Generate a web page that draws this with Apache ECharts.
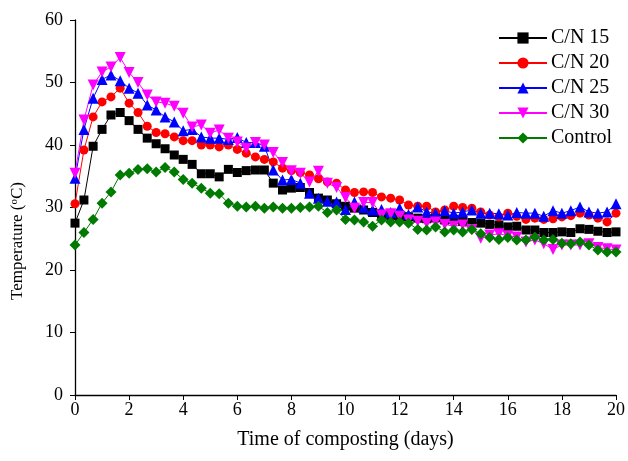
<!DOCTYPE html>
<html>
<head>
<meta charset="utf-8">
<script src="https://cdn.jsdelivr.net/npm/echarts@6/dist/echarts.min.js"></script>
<style>html,body{margin:0;padding:0;background:#fff;}#c{width:628px;height:461px;}</style>
</head>
<body>
<div id="c"></div>
<script>
var days = [0,0.33,0.67,1,1.33,1.67,2,2.33,2.67,3,3.33,3.67,4,4.33,4.67,5,5.33,5.67,6,6.33,6.67,7,7.33,7.67,8,8.33,8.67,9,9.33,9.67,10,10.33,10.67,11,11.33,11.67,12,12.33,12.67,13,13.33,13.67,14,14.33,14.67,15,15.33,15.67,16,16.33,16.67,17,17.33,17.67,18,18.33,18.67,19,19.33,19.67,20];
var cn15 = [27.5,31.2,39.8,42.5,44.8,45.2,43.9,42.5,41.1,40.2,39.4,38.4,37.7,36.9,35.4,35.4,34.9,36.1,35.6,35.9,36.0,36.0,33.9,32.8,33.1,33.2,32.4,31.5,31.2,30.6,30.2,29.9,29.6,29.2,28.9,28.7,28.4,28.5,28.3,28.2,28.4,28.0,28.1,27.8,27.6,27.5,27.3,27.2,26.9,27.0,26.4,26.4,26.0,26.0,26.1,26.0,26.6,26.5,26.2,26.0,26.1];
var cn20 = [30.6,39.2,44.5,46.9,47.7,49.1,46.7,45.2,43.0,42.0,41.8,41.3,40.7,40.7,40.0,40.0,39.7,40.0,39.3,38.7,38.1,37.7,37.3,36.3,35.9,35.6,35.2,34.6,34.1,33.9,32.8,32.4,32.5,32.4,31.7,31.5,31.2,30.4,30.2,30.2,29.3,29.6,30.2,30.0,29.9,29.3,28.8,28.5,29.1,28.6,28.1,28.3,28.1,28.2,28.5,28.7,29.1,28.8,28.3,27.7,29.1];
var cn25 = [34.7,42.5,47.5,50.5,51.2,50.3,49.1,48.3,46.4,45.6,44.5,43.7,42.3,42.5,41.3,41.1,41.1,40.9,41.2,40.4,40.4,39.8,36.0,34.4,34.5,33.9,32.3,31.5,31.0,30.9,29.7,30.9,30.0,29.6,29.7,29.2,29.9,28.9,30.1,29.3,29.1,29.5,29.1,29.3,29.6,29.1,29.1,29.0,28.8,29.2,29.1,29.1,28.6,29.5,29.1,29.5,30.1,29.3,29.1,29.3,30.6];
var cn30 = [35.5,44.0,49.6,51.7,52.5,54.0,51.6,50.0,48.0,46.9,46.7,46.2,45.1,42.9,43.2,41.9,42.4,41.1,40.5,39.5,40.4,40.0,38.8,37.2,35.9,35.5,34.1,35.8,33.9,33.2,31.6,29.9,30.8,30.8,28.8,29.0,28.6,28.0,27.8,27.5,27.7,27.3,27.0,27.2,26.5,25.1,25.6,25.8,25.5,25.3,24.5,24.8,24.2,23.3,24.0,24.0,24.0,24.2,23.6,23.4,23.2];
var control = [24.0,26.0,28.1,30.7,32.5,35.2,35.5,36.1,36.2,35.7,36.4,35.7,34.5,33.9,33.1,32.3,32.2,30.7,30.2,30.1,30.2,29.9,30.1,29.9,29.9,30.0,30.1,30.2,29.2,29.6,28.1,28.0,27.7,27.0,28.0,27.7,27.7,27.5,26.5,26.4,26.9,26.1,26.4,26.1,26.5,25.8,25.2,24.9,25.2,24.8,24.8,25.3,24.8,24.9,24.3,24.2,24.5,24.0,23.2,22.9,22.9];
var seriesNames = ['C/N 15','C/N 20','C/N 25','C/N 30','Control'];
var xTicks = [0,2,4,6,8,10,12,14,16,18,20];
var yTicks = [0,10,20,30,40,50,60];

function pairs(vals){ return days.map(function(d,i){ return [d, vals[i]]; }); }
var FONT = 'Liberation Serif';
var styles = [
  {data: cn15, color:'#000000', symbol:'rect', size:9, rot:0},
  {data: cn20, color:'#ff0000', symbol:'circle', size:9, rot:0},
  {data: cn25, color:'#0000ff', symbol:'triangle', size:11, rot:0},
  {data: cn30, color:'#ff00ff', symbol:'triangle', size:11, rot:180},
  {data: control, color:'#007a00', symbol:'diamond', size:11, rot:0}
];
var series = styles.map(function(s,i){
  return {
    name: seriesNames[i], type:'line', data: pairs(s.data),
    symbol: s.symbol, symbolSize: s.size, symbolRotate: s.rot,
    showAllSymbol: true,
    lineStyle:{color:s.color, width:1}, itemStyle:{color:s.color},
    emphasis:{disabled:true}, animation:false
  };
});
var chart = echarts.init(document.getElementById('c'), null, {renderer:'canvas'});
chart.setOption({
  animation:false,
  grid:{left:75, right:9, top:20, bottom:66, containLabel:false},
  legend:{
    orient:'vertical', left:498, top:28, itemWidth:48, itemHeight:14, itemGap:5, padding:0,
    textStyle:{fontFamily:FONT, fontSize:20, color:'#000', padding:[0,0,0,-1]},
    data: seriesNames
  },
  graphic:[{
    type:'text', x:18, y:241, rotation:Math.PI/2,
    style:{text:'Temperature ({s|o}C)', fontFamily:FONT, fontSize:17, fill:'#000',
      align:'center', verticalAlign:'middle',
      rich:{s:{fontFamily:FONT, fontSize:11, fill:'#000', verticalAlign:'top', padding:[0,0,7,0]}}}
  }],
  xAxis:{
    type:'value', min:0, max:20, interval:2,
    name:'Time of composting (days)', nameLocation:'middle', nameGap:35,
    nameTextStyle:{fontFamily:FONT, fontSize:20, color:'#000'},
    axisLine:{lineStyle:{color:'#000', width:1.3}},
    axisTick:{inside:false, length:5, lineStyle:{color:'#000'}},
    axisLabel:{fontFamily:FONT, fontSize:18, color:'#000', margin:6},
    splitLine:{show:false}
  },
  yAxis:{
    type:'value', min:0, max:60, interval:10,
    axisLine:{show:true, lineStyle:{color:'#000', width:1.3}},
    axisTick:{show:true, inside:false, length:5, lineStyle:{color:'#000'}},
    axisLabel:{fontFamily:FONT, fontSize:18, color:'#000', margin:12},
    splitLine:{show:false}
  },
  series: series
});
</script>
</body>
</html>
